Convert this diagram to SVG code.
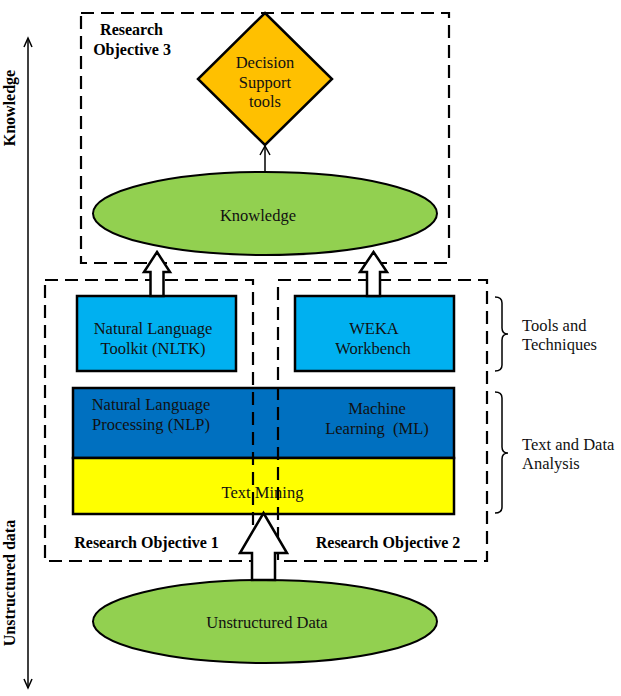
<svg xmlns="http://www.w3.org/2000/svg" width="621" height="696" viewBox="0 0 621 696">
<defs>
<style>
.t{font-family:"Liberation Serif","Times New Roman",serif;font-size:16.5px;fill:#111;text-anchor:middle}
.ts{font-family:"Liberation Serif","Times New Roman",serif;font-size:16.5px;fill:#111}
.b{font-family:"Liberation Serif","Times New Roman",serif;font-size:16px;font-weight:bold;fill:#000;text-anchor:middle}
.dash{fill:none;stroke:#000;stroke-width:2.2;stroke-dasharray:13 7}
.box{stroke:#000;stroke-width:2.5}
.ell{fill:#92D050;stroke:#000;stroke-width:2}
.blk{fill:#fff;stroke:#000;stroke-width:2.5;stroke-linejoin:miter}
.ln{fill:none;stroke:#000;stroke-width:1.5}
</style>
</defs>
<rect width="621" height="696" fill="#fff"/>

<g id="axis">
<line class="ln" x1="28" y1="39" x2="28" y2="688"/>
<polyline class="ln" points="24,47 28,38 32,47"/>
<polyline class="ln" points="24,679 28,688 32,679"/>
<text class="b" transform="translate(15,108) rotate(-90)" font-size="16.5">Knowledge</text>
<text class="b" transform="translate(15,583) rotate(-90)" font-size="16.5">Unstructured data</text>
</g>

<g id="ro3">
<rect class="dash" x="81" y="13" width="368" height="250"/>
<text class="b" x="131.5" y="34.5">Research</text>
<text class="b" x="132" y="54.5">Objective 3</text>
</g>

<g id="decision">
<polygon points="265,13 332,79 265,145 198,79" fill="#FFC000" stroke="#000" stroke-width="2.5"/>
<text class="t" x="265" y="67.5">Decision</text>
<text class="t" x="265" y="87.5">Support</text>
<text class="t" x="265" y="106.5">tools</text>
</g>

<g id="knowledge">
<ellipse class="ell" cx="265" cy="213.5" rx="172" ry="41.5"/>
<text class="t" x="258" y="220.5">Knowledge</text>
</g>

<g id="nltk">
<rect class="box" x="77" y="296" width="159" height="75" fill="#00B0F0"/>
<text class="t" x="153" y="333.5">Natural Language</text>
<text class="t" x="153" y="353.5">Toolkit (NLTK)</text>
</g>

<g id="weka">
<rect class="box" x="295" y="296" width="159" height="75" fill="#00B0F0"/>
<text class="t" x="374" y="333.5">WEKA</text>
<text class="t" x="373" y="353.5">Workbench</text>
</g>

<g id="nlp-ml">
<rect class="box" x="73" y="388" width="381" height="70" fill="#0070C0"/>
<text class="t" x="151" y="409.5">Natural Language</text>
<text class="t" x="151" y="429.5">Processing (NLP)</text>
<text class="t" x="377" y="413.5">Machine</text>
<text class="t" x="377" y="433.5" xml:space="preserve">Learning  (ML)</text>
</g>

<g id="textmining">
<rect class="box" x="73" y="458" width="381" height="56" fill="#FFFF00"/>
<text class="t" x="262.5" y="497.5">Text Mining</text>
</g>

<g id="ro1">
<rect class="dash" x="45" y="280" width="208" height="281"/>
<text class="b" x="146.5" y="547.5">Research Objective 1</text>
</g>

<g id="ro2">
<rect class="dash" x="278" y="280" width="209" height="281"/>
<text class="b" x="388" y="547.5">Research Objective 2</text>
</g>

<g id="unstructured">
<ellipse class="ell" cx="265" cy="621.5" rx="172" ry="41.5"/>
<text class="t" x="267" y="627.5">Unstructured Data</text>
</g>

<g id="brackets">
<path class="ln" d="M495,297 Q502,297 502,303 L502,328 Q502,334 508,334 Q502,334 502,340 L502,365 Q502,371 495,371"/>
<text class="ts" x="522" y="330.5">Tools and</text>
<text class="ts" x="522" y="349.5">Techniques</text>
<path class="ln" d="M495,392 Q502,392 502,398 L502,447 Q502,453 508,453 Q502,453 502,459 L502,507 Q502,513 495,513"/>
<text class="ts" x="522" y="449.5">Text and Data</text>
<text class="ts" x="522" y="468.5">Analysis</text>
</g>

<g id="connectors">
<line class="ln" x1="265" y1="172" x2="265" y2="146"/>
<polyline class="ln" points="260,155 265,146 270,155"/>
<polygon class="blk" points="157,252 170,272 163.5,272 163.5,296 150.5,296 150.5,272 144,272"/>
<polygon class="blk" points="373.5,252 387,272 380,272 380,296 367,296 367,272 360,272"/>
<polygon class="blk" points="263.5,513 287,553 275,553 275,580 252,580 252,553 240,553"/>
</g>
</svg>
